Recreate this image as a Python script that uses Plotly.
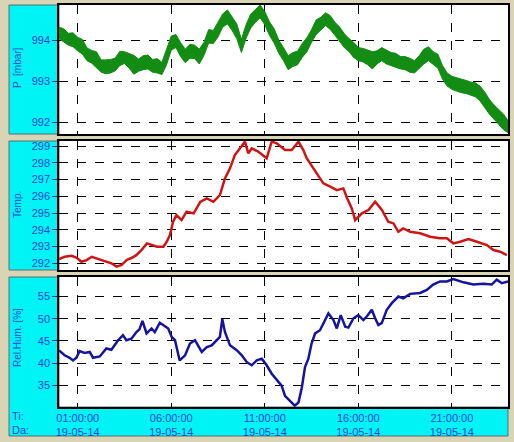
import plotly.graph_objects as go

# ---------------- data (hours since 00:00 on 19-05-14) ----------------
p_time = [0.00, 0.25, 0.50, 0.75, 1.00, 1.25, 1.50, 1.75, 2.00, 2.25, 2.50, 2.75, 3.00, 3.25,
          3.50, 3.75, 4.00, 4.25, 4.50, 4.75, 5.00, 5.25, 5.50, 5.75, 6.00, 6.25, 6.50, 6.75,
          7.00, 7.25, 7.50, 7.75, 8.00, 8.25, 8.50, 8.75, 9.00, 9.25, 9.50, 9.75, 10.00,
          10.25, 10.50, 10.75, 11.00, 11.25, 11.50, 11.75, 12.00, 12.25, 12.50, 12.75, 13.00,
          13.25, 13.50, 13.75, 14.00, 14.25, 14.50, 14.75, 15.00, 15.25, 15.50, 15.75, 16.00,
          16.25, 16.50, 16.75, 17.00, 17.25, 17.50, 17.75, 18.00, 18.25, 18.50, 18.75, 19.00,
          19.25, 19.50, 19.75, 20.00, 20.25, 20.50, 20.75, 21.00, 21.25, 21.50, 21.75, 22.00,
          22.25, 22.50, 22.75, 23.00, 23.25, 23.50, 23.75, 24.00]
p_high = [994.32, 994.28, 994.17, 994.18, 994.07, 994.02, 993.81, 993.75, 993.72, 993.52,
          993.52, 993.53, 993.56, 993.73, 993.72, 993.68, 993.63, 993.54, 993.62, 993.64,
          993.53, 993.55, 993.46, 993.78, 994.10, 994.14, 993.94, 993.78, 993.90, 993.88,
          993.78, 993.95, 994.26, 994.24, 994.44, 994.64, 994.74, 994.56, 994.40, 994.02,
          994.38, 994.64, 994.76, 994.86, 994.70, 994.45, 994.28, 994.00, 993.82, 993.62,
          993.70, 993.73, 993.92, 994.06, 994.26, 994.50, 994.56, 994.67, 994.60, 994.44,
          994.32, 994.16, 994.04, 993.95, 993.82, 993.80, 993.76, 993.72, 993.74, 993.82,
          993.76, 993.70, 993.68, 993.60, 993.60, 993.56, 993.50, 993.62, 993.78, 993.84,
          993.72, 993.66, 993.38, 993.20, 993.12, 993.08, 993.05, 993.02, 992.98, 992.96,
          992.88, 992.74, 992.56, 992.42, 992.30, 992.20, 992.04]
p_low = [994.04, 993.96, 993.88, 993.84, 993.74, 993.66, 993.50, 993.44, 993.33, 993.22,
         993.18, 993.20, 993.25, 993.38, 993.43, 993.32, 993.17, 993.24, 993.28, 993.30,
         993.22, 993.20, 993.16, 993.40, 993.76, 993.82, 993.60, 993.45, 993.56, 993.55,
         993.42, 993.63, 993.93, 993.92, 994.08, 994.32, 994.40, 994.24, 994.04, 993.70,
         994.05, 994.30, 994.44, 994.55, 994.38, 994.12, 993.93, 993.68, 993.50, 993.28,
         993.36, 993.40, 993.58, 993.72, 993.95, 994.14, 994.25, 994.36, 994.26, 994.12,
         993.98, 993.82, 993.72, 993.58, 993.50, 993.47, 993.40, 993.30, 993.42, 993.50,
         993.42, 993.38, 993.34, 993.30, 993.28, 993.22, 993.20, 993.32, 993.42, 993.50,
         993.40, 993.32, 993.05, 992.88, 992.80, 992.76, 992.72, 992.70, 992.66, 992.62,
         992.52, 992.36, 992.20, 992.06, 991.95, 991.82, 991.74]

t_time = [0.0, 0.3, 0.68, 0.95, 1.2, 1.48, 1.75, 2.0, 2.3, 2.55, 2.8, 3.08, 3.35, 3.62, 3.9,
          4.15, 4.42, 4.7, 4.97, 5.24, 5.58, 5.76, 5.93, 6.1, 6.28, 6.55, 6.82, 7.2, 7.55,
          7.9, 8.25, 8.6, 8.87, 9.14, 9.4, 9.67, 9.94, 10.12, 10.3, 10.66, 11.1, 11.37,
          11.64, 12.08, 12.44, 12.8, 13.06, 13.24, 13.6, 13.87, 14.13, 14.5, 14.85, 15.2,
          15.4, 15.65, 15.83, 16.19, 16.54, 16.9, 17.26, 17.6, 17.88, 18.14, 18.4, 18.77,
          19.3, 19.84, 20.37, 20.73, 21.08, 21.44, 21.89, 22.34, 22.87, 23.22, 23.58, 23.94]
temp = [292.25, 292.39, 292.45, 292.33, 292.09, 292.19, 292.39, 292.30, 292.20, 292.09,
        292.00, 291.80, 291.90, 292.20, 292.33, 292.50, 292.80, 293.19, 293.09, 292.99,
        292.99, 293.29, 293.69, 294.48, 294.88, 294.58, 295.08, 294.98, 295.67, 295.88,
        295.67, 296.07, 297.07, 297.67, 298.46, 298.86, 299.26, 298.56, 298.86, 298.66,
        298.27, 299.26, 299.16, 298.76, 298.76, 299.26, 298.76, 298.27, 297.67, 297.17,
        296.77, 296.57, 296.37, 296.47, 295.88, 295.28, 294.58, 294.98, 295.18, 295.67,
        295.18, 294.48, 294.38, 293.88, 294.08, 293.88, 293.79, 293.59, 293.49, 293.49,
        293.19, 293.29, 293.45, 293.29, 293.09, 292.79, 292.69, 292.49]

h_time = [0.0, 0.3, 0.57, 0.75, 0.93, 1.1, 1.37, 1.64, 1.82, 2.18, 2.53, 2.8, 3.16, 3.42,
          3.6, 3.87, 4.14, 4.3, 4.46, 4.68, 4.95, 5.12, 5.39, 5.66, 5.84, 6.02, 6.2, 6.45,
          6.74, 7.0, 7.27, 7.63, 7.9, 8.16, 8.43, 8.6, 8.73, 8.87, 9.14, 9.5, 9.77, 10.04,
          10.3, 10.57, 10.84, 11.1, 11.37, 11.64, 11.9, 12.08, 12.35, 12.6, 12.8, 12.98,
          13.15, 13.33, 13.5, 13.69, 13.95, 14.13, 14.4, 14.67, 14.85, 15.06, 15.3, 15.47,
          15.74, 16.0, 16.27, 16.45, 16.72, 16.9, 17.07, 17.25, 17.52, 17.79, 18.14, 18.4,
          18.77, 19.3, 19.66, 20.0, 20.37, 20.73, 21.08, 21.62, 22.15, 22.68, 23.13, 23.4,
          23.67, 24.0]
hum = [42.86, 41.75, 41.2, 40.6, 41.2, 42.7, 42.3, 42.5, 41.2, 41.5, 43.3, 43.0, 45.16,
       46.3, 45.16, 45.5, 47.0, 47.6, 49.5, 46.7, 47.8, 47.0, 49.1, 48.2, 47.8, 45.9, 45.16,
       40.6, 41.75, 44.4, 45.16, 42.5, 43.6, 44.0, 45.16, 45.9, 49.9, 47.0, 44.0, 42.9,
       41.75, 40.2, 39.5, 40.6, 41.0, 39.5, 37.6, 36.1, 34.9, 32.6, 31.5, 30.4, 31.1, 34.5,
       39.1, 41.0, 44.4, 46.7, 47.4, 49.0, 51.2, 49.7, 47.8, 50.8, 48.2, 48.0, 50.1, 50.8,
       49.7, 50.5, 52.0, 50.1, 48.6, 49.0, 52.0, 53.5, 55.0, 54.6, 55.6, 55.8, 56.5, 57.7,
       58.4, 58.4, 58.95, 58.2, 57.7, 57.9, 57.7, 58.8, 58.0, 58.4]

tick_hours = [1, 6, 11, 16, 21]
tick_time_labels = ["01:00:00", "06:00:00", "11:00:00", "16:00:00", "21:00:00"]
tick_date_labels = ["19-05-14"] * 5
p_ticks = [992, 993, 994]
t_ticks = [292, 293, 294, 295, 296, 297, 298, 299]
h_ticks = [35, 40, 45, 50, 55]

# ---------------- geometry (pixels) ----------------
W, H = 514, 442
def px(x): return x / W
def py(y): return 1 - y / H

XL, XR = 59, 508
LBL = 9
panels = [(5, 134), (141, 270), (277, 407)]
BOT = 436

BG = "#D9D4B6"
CYAN = "#00F4F6"
BLUE = "#1f45d0"
FONT = "Liberation Sans, Arial, sans-serif"

fig = go.Figure()

fig.add_trace(go.Scatter(
    x=p_time + p_time[::-1], y=p_high + p_low[::-1],
    fill="toself", fillcolor="#128c12", mode="lines",
    line=dict(color="#128c12", width=1), xaxis="x", yaxis="y", hoverinfo="skip"))
fig.add_trace(go.Scatter(
    x=t_time, y=temp, mode="lines", line=dict(color="#d01414", width=2.5),
    xaxis="x2", yaxis="y2"))
fig.add_trace(go.Scatter(
    x=h_time, y=hum, mode="lines", line=dict(color="#14149c", width=2.5),
    xaxis="x3", yaxis="y3"))

common_x = dict(range=[0, 24], domain=[px(XL), px(XR)], tickvals=tick_hours,
                showgrid=True, gridcolor="black", griddash="dash", gridwidth=1,
                showline=True, linecolor="black", linewidth=1.5, mirror=True,
                ticks="", zeroline=False, automargin=False)
common_y = dict(showgrid=True, gridcolor="black", griddash="dash", gridwidth=1,
                showline=True, linecolor="black", linewidth=1.5, mirror=True,
                ticks="outside", ticklen=5, tickcolor="#203a9a", zeroline=False,
                automargin=False,
                tickfont=dict(family=FONT, size=11, color=BLUE))

fig.update_layout(
    width=W, height=H, margin=dict(l=0, r=0, t=0, b=0, autoexpand=False),
    paper_bgcolor=BG, plot_bgcolor="white", showlegend=False,
    xaxis=dict(common_x, anchor="y", showticklabels=False),
    xaxis2=dict(common_x, anchor="y2", showticklabels=False),
    xaxis3=dict(common_x, anchor="y3", showticklabels=True,
                ticktext=[a + "<br>" + b for a, b in zip(tick_time_labels, tick_date_labels)],
                tickfont=dict(family=FONT, size=11, color=BLUE)),
    yaxis=dict(common_y, domain=[py(panels[0][1]), py(panels[0][0])],
               range=[991.71, 994.86], tickvals=p_ticks, anchor="x"),
    yaxis2=dict(common_y, domain=[py(panels[1][1]), py(panels[1][0])],
                range=[291.6, 299.3], tickvals=t_ticks, anchor="x2"),
    yaxis3=dict(common_y, domain=[py(panels[2][1]), py(panels[2][0])],
                range=[30.1, 59.4], tickvals=h_ticks, anchor="x3"),
)

shapes = []
for i, (top, bot) in enumerate(panels[:2]):
    shapes.append(dict(type="rect", xref="paper", yref="paper", layer="below",
                       x0=px(LBL), x1=px(XL), y0=py(bot), y1=py(top),
                       fillcolor=CYAN, line=dict(color="#5a6e6e", width=1)))
# L-shaped cyan region for the lower panel + time axis
t3, b3 = panels[2]
path = (f"M {px(LBL)},{py(t3)} L {px(XL)},{py(t3)} L {px(XL)},{py(b3)} L {px(XR)},{py(b3)} "
        f"L {px(XR)},{py(BOT)} L {px(LBL)},{py(BOT)} Z")
shapes.append(dict(type="path", xref="paper", yref="paper", layer="below", path=path,
                   fillcolor=CYAN, line=dict(color="#5a6e6e", width=1)))
fig.update_layout(shapes=shapes)

titles = ["P  [mbar]", "Temp.", "Rel.Hum. [%]"]
centers = [68, 205, 338]
for t, c in zip(titles, centers):
    fig.add_annotation(text=t, xref="paper", yref="paper", x=px(17), y=py(c),
                       xanchor="center", yanchor="middle",
                       textangle=-90, showarrow=False,
                       font=dict(family=FONT, size=10, color=BLUE))
for t, yy in [("Ti:", 416), ("Da:", 430)]:
    fig.add_annotation(text=t, xref="paper", yref="paper", x=px(10), y=py(yy),
                       xanchor="left", yanchor="middle", showarrow=False,
                       font=dict(family=FONT, size=11, color=BLUE))

fig.write_html("out.html", config={"displayModeBar": False},
               post_script="document.body.style.margin='0px';")
